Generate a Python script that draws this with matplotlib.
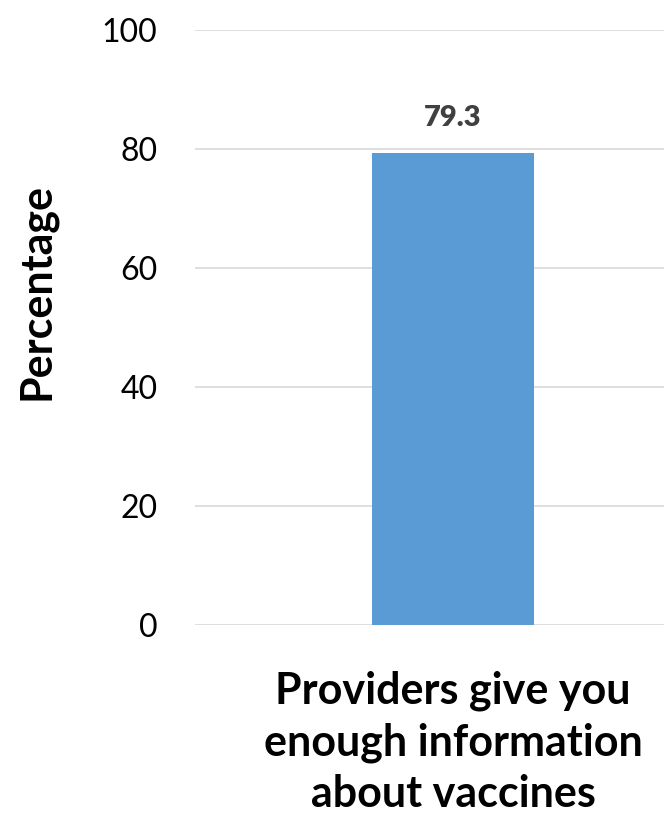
import matplotlib
matplotlib.use("Agg")
from matplotlib import pyplot as plt

categories = ["Providers give you\nenough information\nabout vaccines"]
values = [79.3]
y_ticks = [0, 20, 40, 60, 80, 100]

BAR_COLOR = "#5B9BD5"
GRID_COLOR = "#D9D9D9"

plt.rcParams['font.family'] = ['Lato', 'DejaVu Sans']

fig = plt.figure(figsize=(6.64, 8.21), dpi=100)
# plot area runs past the right edge of the image, as in the original
ax = fig.add_axes([195 / 664, 196 / 821, 516 / 664, 595 / 821])

x = list(range(len(categories)))
bars = ax.bar(x, values, width=0.313, color=BAR_COLOR, zorder=3)
for b, v in zip(bars, values):
    ax.annotate(f"{v:.1f}", (b.get_x() + b.get_width() / 2, v),
                xytext=(0, 16), textcoords="offset points",
                ha="center", va="bottom", fontsize=21, fontweight="heavy",
                color="#404040")

ax.set_xlim(-0.5, len(categories) - 0.5)
ax.set_ylim(0, 100)
ax.set_yticks(y_ticks)
ax.set_yticklabels([str(t) for t in y_ticks], fontsize=23)
ax.set_xticks(x)
ax.set_xticklabels(categories, fontsize=31, fontweight="bold",
                   linespacing=1.34)
ax.tick_params(axis="both", length=0)
ax.tick_params(axis="y", pad=27)
ax.tick_params(axis="x", pad=33)

ax.yaxis.grid(True, color=GRID_COLOR, linewidth=1.2, zorder=0)
for s in ax.spines.values():
    s.set_visible(False)

ax.set_ylabel("Percentage", fontsize=31, fontweight="bold")
ax.yaxis.set_label_coords(-0.268, 0.561)

fig.savefig("out.png", dpi=100)
